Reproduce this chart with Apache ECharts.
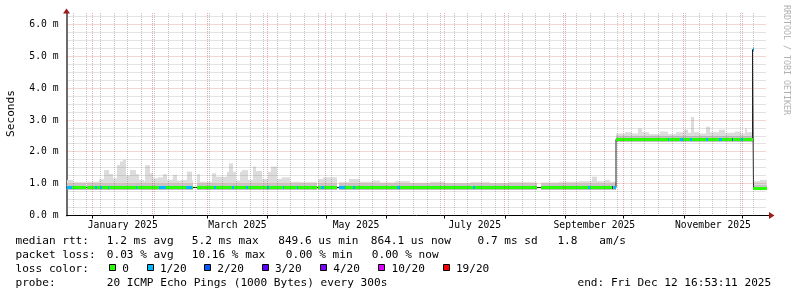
<!DOCTYPE html>
<html><head><meta charset="utf-8">
<script src="https://cdn.jsdelivr.net/npm/echarts@6/dist/echarts.min.js"></script>
<style>html,body{margin:0;padding:0;background:#fff}#c{width:797px;height:297px}</style>
</head><body><div id="c"></div>
<script>
// ================= DATA =================
// Time positions are day offsets from the left edge of the 360-day window.
const windowDays = 360;
const monthLabels = ['January 2025','March 2025','May 2025','July 2025','September 2025','November 2025'];
const yTickValues = [0,1,2,3,4,5,6];

// median RTT in ms: [day, value] (value holds until next breakpoint)
const medianRtt = [[0,0.88],[282.6,2.40],[352.8,5.22],[353.3,0.86]];
// smoke bottom (fastest ping), darker middle band top, smoke top (slowest ping)
const smokeMin = [[0,0.81],[282.6,2.32],[352.8,5.15],[353.3,0.80]];
const smokeMid = [[0,0.99],[282.6,2.52],[352.8,5.30],[353.3,0.98]];
const smokeMax = [
 [0,1.12],[3.1,1.05],[10.3,1.06],[16.5,1.14],[19.5,1.43],[21.6,1.31],[23.7,1.17],[26.2,1.59],
 [27.3,1.70],[28.8,1.75],[30.4,1.26],[32.4,1.43],[35.5,1.30],[37.5,1.12],[39.6,1.08],[40.6,1.58],
 [42.7,1.33],[44.7,1.17],[46.8,1.20],[49.4,1.30],[51.9,1.12],[54.0,1.14],[55.0,1.28],[56.6,1.10],
 [59.1,1.12],[62.2,1.38],[64.3,1.10],[66.9,1.30],[68.4,1.06],[74.6,1.33],[77.1,1.22],[82.3,1.38],
 [83.8,1.64],[85.4,1.38],[87.4,1.10],[89.0,1.38],[90.5,1.43],[93.1,1.12],[95.7,1.54],[97.7,1.40],
 [100.3,1.15],[103.4,1.38],[105.4,1.54],[108.0,1.15],[110.6,1.20],[114.7,1.06],[119.8,1.05],
 [129.1,1.15],[131.7,1.20],[139.9,1.05],[145.5,1.15],[150.7,1.06],[156.9,1.10],[161.0,1.04],
 [168.7,1.08],[176.4,1.03],[186.7,1.06],[194.4,1.02],[207.3,1.05],[217.6,1.02],[227.8,1.05],
 [243.8,1.04],[253.5,1.06],[263.8,1.08],[270.5,1.22],[272.6,1.08],[276.7,1.12],[279.3,1.06],
 [282.6,2.58],[287.0,2.62],[290.6,2.58],[293.7,2.74],[296.2,2.62],[299.8,2.56],[305.0,2.64],
 [309.1,2.56],[313.2,2.62],[317.8,2.70],[319.4,2.60],[321.4,3.10],[322.5,2.62],[325.5,2.58],
 [329.1,2.79],[330.7,2.62],[335.8,2.70],[338.4,2.60],[343.6,2.64],[347.1,2.58],[348.7,2.74],
 [350.2,2.62],[352.8,5.30],[353.3,1.08],[356.4,1.12]
];
// packet loss spans: [startDay, endDay, lost pings out of 20]
const lossSpans = [
 [0,2.6,1],[14.9,15.9,1],[17.0,18.0,1],[21.1,22.1,1],[35.5,36.5,1],[47.8,51.4,1],[61.2,64.3,1],
 [76.1,77.1,1],[84.9,85.9,1],[92.1,93.1,1],[102.9,103.9,1],[111.1,112.1,1],[118.3,119.3,1],
 [131.1,132.2,1],[139.9,143.0,1],[147.1,148.6,1],[170.2,171.3,1],[209.3,210.3,1],[268.0,269.0,1],
 [280.3,280.8,3],[281.8,282.6,1],[306.0,306.5,1],[309.1,310.1,1],[315.3,316.8,1],[320.9,321.9,1],
 [329.1,329.7,1],[335.8,336.9,1],[342.0,342.6,2],[347.1,347.7,1],[352.8,353.3,1]
];
// spans without data
const gapSpans = [[9.8,10.3],[64.8,66.9],[128.6,129.1],[138.9,139.9],[242.2,243.8]];

// legend texts
const lossLabels = ['0','1/20','2/20','3/20','4/20','10/20','19/20'];
const lossThresholds = [0,1,2,3,4,10,19];
const rttStats = ['1.2 ms avg','5.2 ms max','849.6 us min','864.1 us now','0.7 ms sd','1.8','am/s'];
const lossStats = ['0.03 % avg','10.16 % max','0.00 % min','0.00 % now'];
const probeText = '20 ICMP Echo Pings (1000 Bytes) every 300s';
const endText = 'end: Fri Dec 12 16:53:11 2025';

// ================= STYLES / LAYOUT =================
const lossColors = ['#26ff00','#00b8ff','#0059ff','#5e00ff','#7e00ff','#dd00ff','#ff0000'];
const SMOKE_LOW = '#ababab', SMOKE_MID = '#c6c6c6', SMOKE_TOP = '#dcdcdc';
const GRID_MINOR = 'rgba(120,120,120,0.42)', GRID_MAJOR = 'rgba(195,60,60,0.42)';
const FF = 'DejaVu Sans Mono';
const YMAX = 6.37;
const DAY = 86400000;
const START = Date.UTC(2024,11,18,13,20,0);
const END = START + windowDays*DAY;
const ts = d => START + d*DAY;

function stepAt(arr, d){ let v = arr[0][1]; for (const p of arr){ if (p[0] <= d) v = p[1]; else break; } return v; }
function lossIndex(n){ for (let i=0;i<lossThresholds.length;i++) if (n <= lossThresholds[i]) return i; return lossThresholds.length-1; }

// build segments
const cuts = new Set([0, windowDays]);
[medianRtt, smokeMin, smokeMid, smokeMax].forEach(a => a.forEach(p => cuts.add(p[0])));
lossSpans.forEach(s => { cuts.add(s[0]); cuts.add(s[1]); });
gapSpans.forEach(s => { cuts.add(s[0]); cuts.add(s[1]); });
const sortedCuts = [...cuts].sort((a,b)=>a-b);
const segs = [];
for (let i=0;i<sortedCuts.length-1;i++){
  const a = sortedCuts[i], b = sortedCuts[i+1], m = (a+b)/2;
  if (gapSpans.some(g => m > g[0] && m < g[1])) continue;
  const ls = lossSpans.find(s => m > s[0] && m < s[1]);
  segs.push([ts(a), ts(b), stepAt(smokeMin,m), stepAt(medianRtt,m), stepAt(smokeMid,m), stepAt(smokeMax,m), ls ? ls[2] : 0]);
}
const medianLine = medianRtt.map(p => [ts(p[0]), p[1]]).concat([[END, medianRtt[medianRtt.length-1][1]]]);

// grid positions
const monthStarts = []; for (let m=0;m<12;m++) monthStarts.push(Date.UTC(2025,m,1));
const weekLines = []; for (let t=Date.UTC(2024,11,22); t<END; t+=7*DAY) if (!monthStarts.includes(t)) weekLines.push(t);
const labelTs = [0,2,4,6,8,10].map(m => { const s = Date.UTC(2025,m,1), e = Date.UTC(2025,m+1,1); return s + (e-s)/2; });
const vGrid = weekLines.map(t => [t, 0, 0]).concat(monthStarts.map(t => [t, 0, 1]));
const hGrid = [];
for (let k=1;k*0.25<YMAX;k++){ hGrid.push([START, k*0.25, k%4===0 ? 1 : 0]); }

function xr(api, t){ return Math.round(api.coord([t, 0])[0]); }
function renderSmoke(params, api){
  const x0 = xr(api, api.value(0)), x1 = xr(api, api.value(1)), w = Math.max(1, x1-x0);
  const y = v => api.coord([api.value(0), v])[1];
  const yMin = y(api.value(2)), yMed = y(api.value(3)), yMid = y(api.value(4)), yMax = y(api.value(5));
  const ch = [];
  const band = (top, bot, fill) => { if (bot - top > 0) ch.push({type:'rect', shape:{x:x0, y:top, width:w, height:bot-top}, style:{fill}}); };
  band(yMed, yMin, SMOKE_LOW); band(yMid, yMed, SMOKE_MID); band(yMax, yMid, SMOKE_TOP);
  return {type:'group', children: ch};
}
function renderMedian(params, api){
  const x0 = xr(api, api.value(0)), x1 = xr(api, api.value(1)), w = Math.max(1, x1-x0);
  const yc = api.coord([api.value(0), api.value(3)])[1];
  return {type:'rect', shape:{x:x0, y:Math.round(yc-1.5), width:w, height:3}, style:{fill: lossColors[lossIndex(api.value(6))]}};
}
function renderVGrid(params, api){
  const x = Math.floor(api.coord([api.value(0), 0])[0]) + 0.5;
  const yTop = api.coord([api.value(0), YMAX])[1], yBot = api.coord([api.value(0), 0])[1];
  return {type:'line', shape:{x1:x, y1:yTop, x2:x, y2:yBot}, style:{stroke: api.value(2) ? GRID_MAJOR : GRID_MINOR, lineWidth:1, lineDash:[1,1]}};
}
function renderHGrid(params, api){
  const p0 = api.coord([START, api.value(1)]), p1 = api.coord([END, api.value(1)]);
  const y = Math.floor(p0[1]) + 0.5;
  return {type:'line', shape:{x1:p0[0], y1:y, x2:p1[0], y2:y}, style:{stroke: api.value(2) ? GRID_MAJOR : GRID_MINOR, lineWidth:1, lineDash:[1,1]}};
}

// ---- graphic texts ----
function txt(s, x, y, o){ o = o || {}; return {type:'text', x, y, rotation:o.rot||0, silent:true, z:10,
  style:{text:s, fontFamily:FF, fontSize:o.size||11.1, fill:o.fill||'#000', align:o.align||'left', verticalAlign:'middle'}}; }
const rowY = [241, 255, 269, 283];
const rttX = [106.8,191.8,278.2,370.8,477.6,557.4,599.3];
const lossX = [106.8,191.8,285.8,371.8];
const squareX = [109,146.7,204,261.7,320,378.3,442.7];
const graphics = [];
graphics.push(txt('median rtt:', 15.5, rowY[0]));
rttStats.forEach((s,i) => graphics.push(txt(s, rttX[i], rowY[0])));
graphics.push(txt('packet loss:', 15.5, rowY[1]));
lossStats.forEach((s,i) => graphics.push(txt(s, lossX[i], rowY[1])));
graphics.push(txt('loss color:', 15.5, rowY[2]));
lossLabels.forEach((s,i) => {
  graphics.push({type:'rect', silent:true, z:10, shape:{x:Math.round(squareX[i])+0.5, y:264.5, width:6, height:6}, style:{fill:lossColors[i], stroke:'#000', lineWidth:1}});
  graphics.push(txt(s, squareX[i]+13.2, rowY[2]));
});
graphics.push(txt('probe:', 15.5, rowY[3]));
graphics.push(txt(probeText, 106.8, rowY[3]));
graphics.push(txt(endText, 577.5, rowY[3]));
graphics.push(txt('Seconds', 11, 113.5, {rot:Math.PI/2, align:'center'}));
graphics.push(txt('RRDTOOL / TOBI OETIKER', 786.5, 60, {rot:-Math.PI/2, align:'center', size:8.3, fill:'#b0b0b0'}));
// axis extension + arrows
graphics.push({type:'line', silent:true, z:10, shape:{x1:766.5, y1:215.5, x2:770, y2:215.5}, style:{stroke:'#000', lineWidth:1}});
graphics.push({type:'polygon', silent:true, z:10, shape:{points:[[769,212],[769,219],[774.5,215.5]]}, style:{fill:'#a01818'}});
graphics.push({type:'polygon', silent:true, z:10, shape:{points:[[63,13.5],[70,13.5],[66.5,8.5]]}, style:{fill:'#a01818'}});

const chart = echarts.init(document.getElementById('c'));
chart.setOption({
  animation:false,
  backgroundColor:'#fff',
  grid:{left:66.5, right:30.5, top:13, bottom:81.5, containLabel:false, outerBoundsMode:'none'},
  xAxis:{type:'value', min:START, max:END, scale:true,
    axisLine:{show:true, onZero:false, lineStyle:{color:'#000', width:1}},
    axisTick:{show:true, customValues:monthStarts, length:3, lineStyle:{color:'#000'}},
    axisLabel:{customValues:labelTs, formatter:(v) => { let bi=0,bd=Infinity; labelTs.forEach((t,i)=>{const d=Math.abs(t-v); if(d<bd){bd=d;bi=i;}}); return monthLabels[bi]; },
      fontFamily:FF, fontSize:9.7, color:'#000', margin:5},
    splitLine:{show:false}},
  yAxis:{type:'value', min:0, max:YMAX,
    axisLine:{show:true, lineStyle:{color:'#6a6a6a', width:2}},
    axisTick:{show:false},
    axisLabel:{customValues:yTickValues, formatter:(v)=>v.toFixed(1)+' m', fontFamily:FF, fontSize:9.7, color:'#000', margin:8},
    splitLine:{show:false}},
  graphic: graphics,
  series:[
    {type:'custom', name:'smoke', data:segs, renderItem:renderSmoke, z:2, silent:true},
    {type:'line', name:'median', data:medianLine, step:'end', showSymbol:false, symbol:'none', z:3, silent:true,
      lineStyle:{color:'#202020', width:1}},
    {type:'custom', name:'loss', data:segs, renderItem:renderMedian, z:4, silent:true},
    {type:'custom', name:'vgrid', data:vGrid, renderItem:renderVGrid, z:5, silent:true},
    {type:'custom', name:'hgrid', data:hGrid, renderItem:renderHGrid, z:5, silent:true}
  ]
});
</script></body></html>
